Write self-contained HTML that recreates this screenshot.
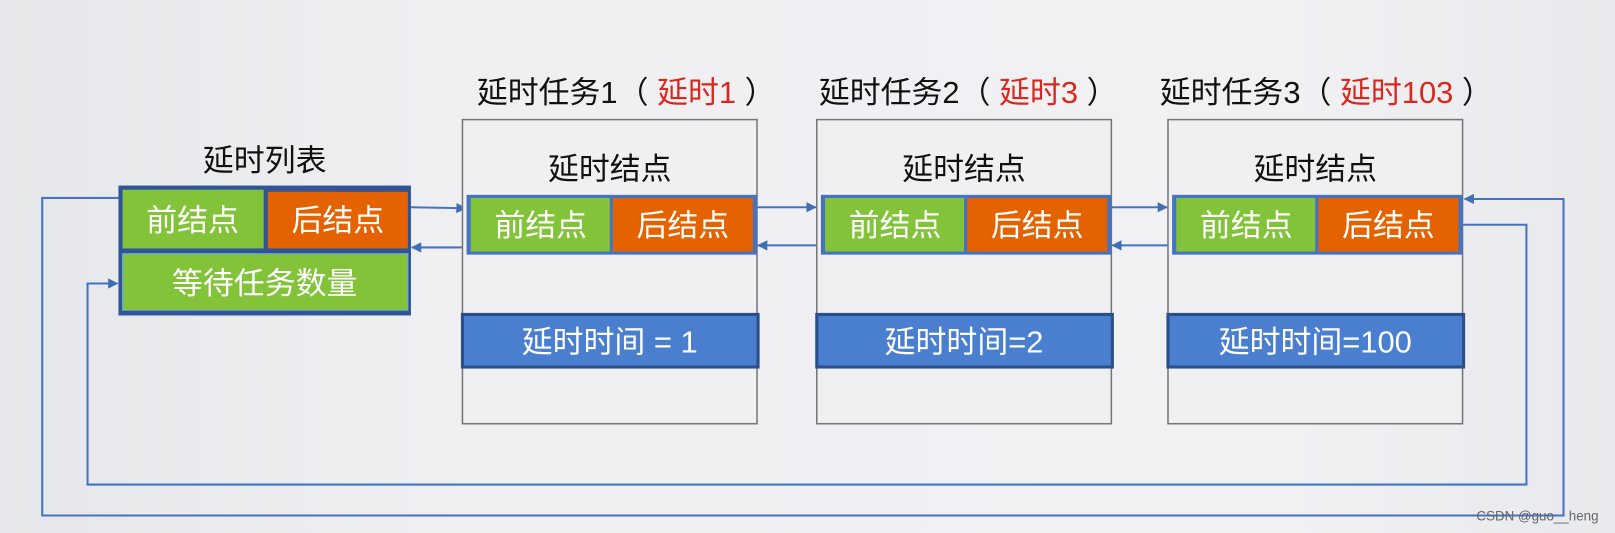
<!DOCTYPE html>
<html><head><meta charset="utf-8"><style>
html,body{margin:0;padding:0;width:1615px;height:533px;overflow:hidden;background:#eeeef0}
svg{display:block}
text{font-family:"Liberation Sans","Noto Sans CJK SC",sans-serif}
</style></head><body>
<svg width="1615" height="533" viewBox="0 0 1568 517" preserveAspectRatio="none" xmlns="http://www.w3.org/2000/svg">
<defs>
<linearGradient id="bg" x1="0" y1="0" x2="1" y2="0">
<stop offset="0" stop-color="#e6e7ea"/><stop offset="0.3" stop-color="#f0f0f3"/><stop offset="0.8" stop-color="#f1f1f4"/><stop offset="1" stop-color="#e8e9ec"/>
</linearGradient>
<marker id="ar" markerWidth="10" markerHeight="10" refX="9" refY="5" orient="auto" markerUnits="userSpaceOnUse">
<path d="M0,0 L10,5 L0,10 Z" fill="#3f6fb5"/></marker>
</defs>
<rect width="1568" height="517" fill="url(#bg)"/>
<g stroke="#4472c4" stroke-width="2" fill="none">
<polyline points="115,192 41,192 41,500 1518,500 1518,193 1422,193" marker-end="url(#ar)"/>
<polyline points="1420,218 1482,218 1482,470 85,470 85,275 114,275" marker-end="url(#ar)"/>
<line x1="399" y1="201" x2="452" y2="202" marker-end="url(#ar)"/>
<line x1="453" y1="240" x2="400" y2="240" marker-end="url(#ar)"/>
<line x1="735" y1="201" x2="792" y2="201" marker-end="url(#ar)"/>
<line x1="793" y1="238" x2="736" y2="238" marker-end="url(#ar)"/>
<line x1="1079" y1="201" x2="1133" y2="201" marker-end="url(#ar)"/>
<line x1="1134" y1="238" x2="1080" y2="238" marker-end="url(#ar)"/>
</g>
<text x="257" y="166" font-size="30" text-anchor="middle" fill="#111">延时列表</text>
<rect x="115" y="180" width="284" height="126" fill="#2f5597"/>
<rect x="119" y="184" width="137" height="57" fill="#82c33a"/>
<rect x="260" y="186" width="136" height="55" fill="#e46200"/>
<rect x="119" y="246" width="277" height="55" fill="#82c33a" stroke="#6aa6e0" stroke-width="1"/>
<g font-size="30" fill="#fff" text-anchor="middle">
<text x="187" y="224">前结点</text><text x="328" y="224">后结点</text><text x="257" y="285">等待任务数量</text>
</g>
<g font-size="30" fill="#111">
<text x="463" y="100">延时任务1（ <tspan fill="#d8281e">延时1</tspan> ）</text>
<text x="795" y="100">延时任务2（ <tspan fill="#d8281e">延时3</tspan> ）</text>
<text x="1126" y="100">延时任务3（ <tspan fill="#d8281e">延时103</tspan> ）</text>
</g>
<g>
<rect x="449" y="116" width="286" height="295" fill="#f0f0f3" stroke="#777" stroke-width="1.5"/>
<rect x="793" y="116" width="286" height="295" fill="#f0f0f3" stroke="#777" stroke-width="1.5"/>
<rect x="1134" y="116" width="286" height="295" fill="#f0f0f3" stroke="#777" stroke-width="1.5"/>
</g>
<g font-size="30" fill="#111" text-anchor="middle">
<text x="592" y="174">延时结点</text><text x="936" y="174">延时结点</text><text x="1277" y="174">延时结点</text>
</g>
<g>
<rect x="453" y="189" width="282" height="58" fill="#4472c4"/>
<rect x="457" y="192" width="135" height="52" fill="#82c33a"/>
<rect x="595" y="192" width="136" height="52" fill="#e46200"/>
<rect x="797" y="189" width="282" height="58" fill="#4472c4"/>
<rect x="801" y="192" width="135" height="52" fill="#82c33a"/>
<rect x="939" y="192" width="136" height="52" fill="#e46200"/>
<rect x="1138" y="189" width="282" height="58" fill="#4472c4"/>
<rect x="1142" y="192" width="135" height="52" fill="#82c33a"/>
<rect x="1280" y="192" width="136" height="52" fill="#e46200"/>
</g>
<g font-size="30" fill="#fff" text-anchor="middle">
<text x="525" y="229">前结点</text><text x="663" y="229">后结点</text>
<text x="869" y="229">前结点</text><text x="1007" y="229">后结点</text>
<text x="1210" y="229">前结点</text><text x="1348" y="229">后结点</text>
</g>
<g fill="#4a7fd0" stroke="#2a4f8a" stroke-width="3">
<rect x="449" y="305" width="287" height="51"/>
<rect x="793" y="305" width="287" height="51"/>
<rect x="1134" y="305" width="287" height="51"/>
</g>
<g font-size="30" fill="#fff" text-anchor="middle">
<text x="592" y="342">延时时间 = 1</text><text x="936" y="342">延时时间=2</text><text x="1277" y="342">延时时间=100</text>
</g>
<text x="1552" y="505" font-size="13" fill="#666" text-anchor="end">CSDN @guo__heng</text>
</svg>
</body></html>
